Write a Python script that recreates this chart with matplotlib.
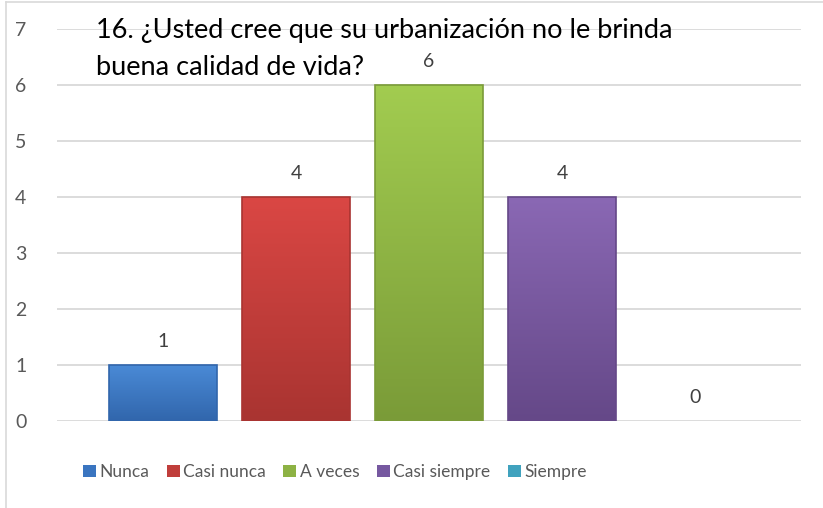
import numpy as np
import matplotlib
matplotlib.use('Agg')
import matplotlib.pyplot as plt
from matplotlib.colors import LinearSegmentedColormap
from matplotlib.patches import Patch
from matplotlib.lines import Line2D

categories = ['Nunca', 'Casi nunca', 'A veces', 'Casi siempre', 'Siempre']
values = [1, 4, 6, 4, 0]
title_lines = ['16. ¿Usted cree que su urbanización no le brinda',
               'buena calidad de vida?']

# top / bottom gradient colours per bar (Office 2007 style)
top_colors = ['#4A8AD6', '#DA4744', '#A2CC50', '#8A68B4', '#4FB8D2']
bottom_colors = ['#3166AC', '#A93431', '#7A9B38', '#654888', '#3590A8']
legend_colors = ['#3A75C0', '#C03E3B', '#8DB244', '#7658A0', '#40A2BE']

plt.rcParams['font.family'] = ['Lato', 'DejaVu Sans']

W, H = 823, 508
fig = plt.figure(figsize=(W / 100, H / 100), dpi=100)
ax = fig.add_axes([57 / W, (H - 421) / H, (801 - 57) / W, (421 - 29) / H])

x = np.arange(len(categories))
bars = ax.bar(x, values, width=0.81, color='none', edgecolor='none', zorder=3)

grad = np.linspace(1, 0, 256).reshape(-1, 1)
for b, top, bot in zip(bars, top_colors, bottom_colors):
    h = b.get_height()
    if h <= 0:
        continue
    cmap = LinearSegmentedColormap.from_list('g', [bot, top])
    x0 = b.get_x()
    im = ax.imshow(grad, extent=[x0, x0 + b.get_width(), 0, h], aspect='auto',
                   cmap=cmap, vmin=0, vmax=1, zorder=3, interpolation='bilinear')
    im.set_clip_path(b)
    # darker outline like the bevel edge
    ax.add_patch(plt.Rectangle((x0, 0), b.get_width(), h, fill=False,
                               edgecolor=bot, linewidth=1.2, zorder=4))

for xi, v in zip(x, values):
    ax.annotate(str(v), (xi, v), xytext=(0, 10.5), textcoords='offset points',
                ha='center', va='bottom', fontsize=14, color='#404040')

ax.set_xlim(-0.797, 4.797)
ax.set_ylim(0, 7)
ax.set_yticks(range(0, 8))
ax.set_xticks([])
ax.yaxis.grid(True, color='#D9D9D9', linewidth=1.3)
ax.set_axisbelow(True)
for s in ax.spines.values():
    s.set_visible(False)
ax.tick_params(axis='y', length=0, pad=22, labelsize=14, labelcolor='#595959')

fig.text(96 / W, 1 - 38 / H, title_lines[0], ha='left', va='baseline',
         fontsize=19.5, color='#000000')
fig.text(96 / W, 1 - 75 / H, title_lines[1], ha='left', va='baseline',
         fontsize=19.5, color='#000000')

handles = [Patch(facecolor=c, edgecolor='none') for c in legend_colors]
fig.legend(handles, categories, loc='center', bbox_to_anchor=(335 / W, 1 - 472 / H),
           ncol=5, frameon=False, fontsize=12.5, handlelength=0.75, handleheight=0.75,
           handletextpad=0.2, columnspacing=1.0, labelcolor='#595959')

# outer chart border (left and top visible)
fig.add_artist(Line2D([5.5 / W, 5.5 / W], [0, 1 - 1.5 / H], color='#D9D9D9', lw=1.2))
fig.add_artist(Line2D([5.5 / W, 1], [1 - 1.5 / H, 1 - 1.5 / H], color='#D9D9D9', lw=1.2))

fig.savefig('out.png', dpi=100)
